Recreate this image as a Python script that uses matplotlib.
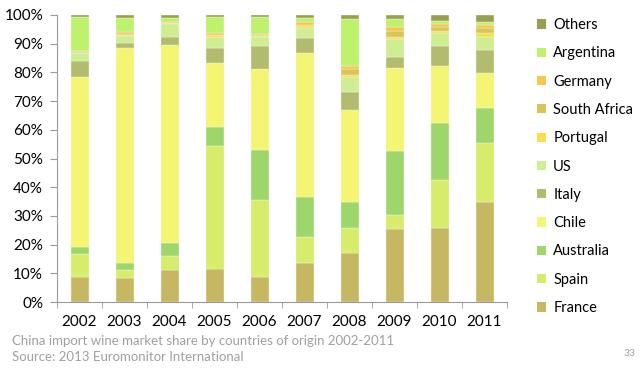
import numpy as np
import matplotlib
matplotlib.use("Agg")
import matplotlib.pyplot as plt
from matplotlib.patches import Patch

years = ['2002', '2003', '2004', '2005', '2006', '2007', '2008', '2009', '2010', '2011']

# market share (%) by country of origin, bottom to top of each bar
france = [8.6, 8.3, 11.1, 11.6, 8.6, 13.7, 17.2, 25.5, 25.9, 34.9]
spain = [8.1, 2.8, 4.9, 42.9, 26.9, 9.1, 8.7, 4.9, 16.7, 20.4]
australia = [2.3, 2.4, 4.6, 6.5, 17.5, 13.7, 9.0, 22.2, 19.9, 12.4]
chile = [59.3, 75.1, 68.8, 22.2, 28.1, 50.2, 32.0, 29.0, 19.7, 12.0]
italy = [5.6, 1.8, 3.0, 5.4, 8.1, 5.2, 6.4, 3.9, 6.9, 8.1]
us = [2.8, 2.4, 4.5, 3.8, 3.2, 3.6, 5.2, 6.1, 4.5, 4.4]
portugal = [0.2, 0.3, 0.2, 0.6, 0.4, 0.5, 0.5, 0.6, 0.8, 1.7]
south_africa = [0.1, 0.2, 0.1, 0.2, 0.2, 0.6, 2.2, 2.2, 1.5, 1.5]
germany = [0.6, 0.9, 0.4, 0.6, 0.5, 1.0, 1.0, 1.3, 1.0, 1.0]
argentina = [11.6, 4.9, 1.5, 5.4, 5.7, 1.4, 16.3, 2.8, 1.1, 1.0]
others = [0.8, 0.9, 0.9, 0.8, 0.8, 1.0, 1.5, 1.5, 2.0, 2.6]

series = [
    ('France', france, '#C6B763'),
    ('Spain', spain, '#D6EC6A'),
    ('Australia', australia, '#9DD66A'),
    ('Chile', chile, '#F5F574'),
    ('Italy', italy, '#B3BB6E'),
    ('US', us, '#CFEE92'),
    ('Portugal', portugal, '#FBDF4A'),
    ('South Africa', south_africa, '#D9C555'),
    ('Germany', germany, '#F8C64C'),
    ('Argentina', argentina, '#BFF26C'),
    ('Others', others, '#9A9E50'),
]

plt.rcParams['font.family'] = ['Lato', 'DejaVu Sans']

fig = plt.figure(figsize=(6.4, 3.73), dpi=100)
ax = fig.add_axes([57 / 640, 1 - 302 / 373, 450 / 640, 287 / 373])

x = np.arange(len(years))
bottom = np.zeros(len(years))
for name, vals, color in series:
    vals = np.array(vals)
    ax.bar(x, vals, 0.4, bottom=bottom, color=color, label=name,
           edgecolor='#F2F2E4', linewidth=0.3)
    bottom += vals

ax.set_xlim(-0.5, len(years) - 0.5)
ax.set_ylim(0, 100)
ax.set_yticks(np.arange(0, 101, 10))
ax.set_yticklabels([f'{v}%' for v in range(0, 101, 10)])
ax.set_xticks(x)
ax.set_xticklabels(years)
ax.set_xticks(np.arange(-0.5, len(years), 1), minor=True)
ax.tick_params(axis='x', which='major', length=0, labelsize=11, pad=9)
ax.tick_params(axis='x', which='minor', length=4, color='#999999')
ax.tick_params(axis='y', length=5, color='#999999', labelsize=11, pad=5)
for s in ['top', 'right']:
    ax.spines[s].set_visible(False)
for s in ['left', 'bottom']:
    ax.spines[s].set_color('#999999')

handles = [Patch(facecolor=c, edgecolor='none', label=n) for n, _, c in series][::-1]
fig.legend(handles=handles, loc='upper left', bbox_to_anchor=(524 / 640, 1 - 5 / 373),
           frameon=False, fontsize=10.5, handlelength=0.6, handleheight=0.6,
           handletextpad=0.5, labelspacing=0.98)

fig.text(12 / 640, 1 - 341 / 373, 'China import wine market share by countries of origin 2002-2011',
         fontsize=9.5, color='#A0A0A0', va='center')
fig.text(12 / 640, 1 - 357 / 373, 'Source: 2013 Euromonitor International',
         fontsize=9.5, color='#A0A0A0', va='center')
fig.text(636 / 640, 1 - 353 / 373, '33', fontsize=7.5, color='#A0A0A0', ha='right', va='center')

fig.savefig('out.png', dpi=100)
